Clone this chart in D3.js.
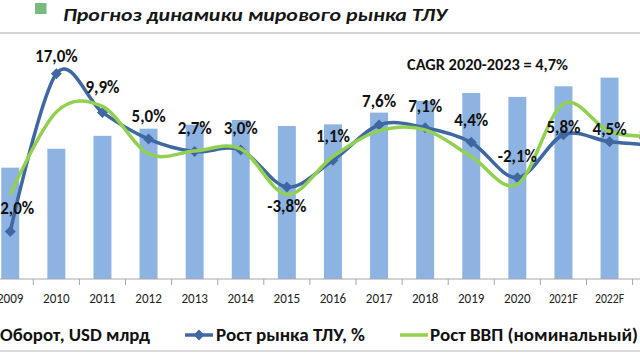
<!DOCTYPE html>
<html><head><meta charset="utf-8">
<script src="https://cdn.jsdelivr.net/npm/d3@7"></script>
<style>
html,body{margin:0;padding:0;background:#fff;overflow:hidden}
svg{display:block}
text{font-family:"Carlito","Open Sans","Noto Sans",sans-serif}
</style></head>
<body>
<svg id="chart" width="640" height="362"></svg>
<script>
// ---- data ----
const years = ["2009","2010","2011","2012","2013","2014","2015","2016","2017","2018","2019","2020","2021F","2022F","2023F"];
const turnover = [3340, 3908, 4295, 4510, 4631, 4770, 4589, 4639, 4992, 5346, 5581, 5464, 5781, 6041, 6277];
const marketGrowth = [-12.0, 17.0, 9.9, 5.0, 2.7, 3.0, -3.8, 1.1, 7.6, 7.1, 4.4, -2.1, 5.8, 4.5, 3.9];
const marketLabels = ["-12,0%","17,0%","9,9%","5,0%","2,7%","3,0%","-3,8%","1,1%","7,6%","7,1%","4,4%","-2,1%","5,8%","4,5%","3,9%"];
const gdpGrowth = [-5.2, 10.0, 11.0, 2.3, 2.8, 3.2, -5.2, 1.8, 6.5, 6.7, 1.8, -3.3, 11.5, 6.4, 5.5];
const legendNames = ["Оборот, USD млрд", "Рост рынка ТЛУ, %", "Рост ВВП (номинальный)"];
const titleText = "Прогноз динамики мирового рынка ТЛУ";
const cagrText = "CAGR 2020-2023 = 4,7%";

// ---- layout (styling only) ----
const labelDy = [-18, -12, -19, -17, -18, -16, 25, -18, -18, -16, -16, -16, -2, -7, -4];
const colBar = "#8db3e2", colBlue = "#3f68a3", colGreen = "#92d050";

const svg = d3.select("#chart");
svg.append("rect").attr("width",640).attr("height",362).attr("fill","#fff");

const step = 46.1, x0 = 10.25 - step/2;
const x = d3.scaleBand().domain(years).range([x0, x0 + step*years.length]).paddingInner(0.61).paddingOuter(0.305);
const xc = d => x(d) + x.bandwidth()/2;
const yBar = d3.scaleLinear().domain([0, 8000]).range([279, 279 - 8000/30]);
const yLine = d3.scaleLinear().domain([-20, 20]).range([275.1, 57.5]);

// title
svg.append("rect").attr("x",35).attr("y",3).attr("width",11.5).attr("height",11).attr("fill","#79bb7b");
svg.append("text").attr("x",63).attr("y",21).text(titleText)
  .attr("font-size",19).attr("font-weight","bold").attr("font-style","italic").attr("fill","#161616")
  .attr("textLength",384).attr("lengthAdjust","spacingAndGlyphs");
svg.append("line").attr("x1",0).attr("x2",640).attr("y1",33).attr("y2",33).attr("stroke","#c4c4c4").attr("stroke-width",1.5);
svg.append("line").attr("x1",0).attr("x2",640).attr("y1",351).attr("y2",351).attr("stroke","#d0d0d0").attr("stroke-width",1.5);

// bars
svg.append("g").selectAll("rect").data(years).join("rect")
  .attr("x", d => x(d)).attr("width", x.bandwidth())
  .attr("y", (d,i) => yBar(turnover[i])).attr("height", (d,i) => yBar(0) - yBar(turnover[i]))
  .attr("fill", colBar);

// axis
svg.append("line").attr("x1",0).attr("x2",640).attr("y1",yBar(0)).attr("y2",yBar(0)).attr("stroke","#a6a6a6").attr("stroke-width",1);
svg.append("g").selectAll("line").data(years).join("line")
  .attr("x1", d => x(d) - x.step()*x.paddingInner()/2 + x.step()).attr("x2", d => x(d) - x.step()*x.paddingInner()/2 + x.step())
  .attr("y1", yBar(0)).attr("y2", yBar(0)+6).attr("stroke","#a6a6a6");
const ax = svg.append("g").attr("transform",`translate(0,${yBar(0)})`)
  .call(d3.axisBottom(x).tickSize(0).tickPadding(14));
ax.select(".domain").remove();
ax.selectAll("text").attr("font-size",14).attr("fill","#222")
  .attr("font-family","'Carlito','Open Sans',sans-serif")
  .attr("textLength", d => d.length > 4 ? 29 : 26.5).attr("lengthAdjust","spacingAndGlyphs");

// lines
const curve = d3.curveCardinal.tension(0);
const blueLine = d3.line().x((d,i) => xc(years[i])).y(d => yLine(d)).curve(curve);
svg.append("path").attr("d", blueLine(marketGrowth)).attr("fill","none").attr("stroke",colBlue).attr("stroke-width",3.5);
const diamond = (cx, cy, r) => `M${cx},${cy-r}L${cx+r},${cy}L${cx},${cy+r}L${cx-r},${cy}Z`;
svg.append("g").selectAll("path").data(marketGrowth).join("path")
  .attr("d", (d,i) => diamond(xc(years[i]), yLine(d), 5.5)).attr("fill",colBlue);
svg.append("path").attr("d", blueLine(gdpGrowth)).attr("fill","none").attr("stroke",colGreen).attr("stroke-width",3.5);

// labels
svg.append("g").selectAll("text").data(marketLabels).join("text")
  .attr("x",(d,i) => xc(years[i])).attr("y",(d,i) => yLine(marketGrowth[i]) + labelDy[i])
  .attr("text-anchor","middle").attr("font-size",17).attr("font-weight","bold").attr("fill","#111")
  .text(d => d);

svg.append("text").attr("x",407).attr("y",70).text(cagrText)
  .attr("font-size",15).attr("font-weight","bold").attr("fill","#111")
  .attr("textLength",161).attr("lengthAdjust","spacingAndGlyphs");

// legend
const lg = svg.append("g").attr("font-size",17).attr("font-weight","bold").attr("fill","#111");
lg.append("rect").attr("x",-20).attr("y",328).attr("width",12).attr("height",12).attr("fill",colBar);
lg.append("text").attr("x",0).attr("y",341).text(legendNames[0]).attr("textLength",150).attr("lengthAdjust","spacingAndGlyphs");
lg.append("line").attr("x1",185).attr("x2",213).attr("y1",335).attr("y2",335).attr("stroke",colBlue).attr("stroke-width",3.5);
lg.append("path").attr("d",diamond(199,335,5.5)).attr("fill",colBlue);
lg.append("text").attr("x",216).attr("y",341).text(legendNames[1]).attr("textLength",149).attr("lengthAdjust","spacingAndGlyphs");
lg.append("line").attr("x1",400).attr("x2",428).attr("y1",335).attr("y2",335).attr("stroke",colGreen).attr("stroke-width",3.5);
lg.append("text").attr("x",430).attr("y",341).text(legendNames[2]).attr("textLength",208).attr("lengthAdjust","spacingAndGlyphs");
</script>
</body></html>
